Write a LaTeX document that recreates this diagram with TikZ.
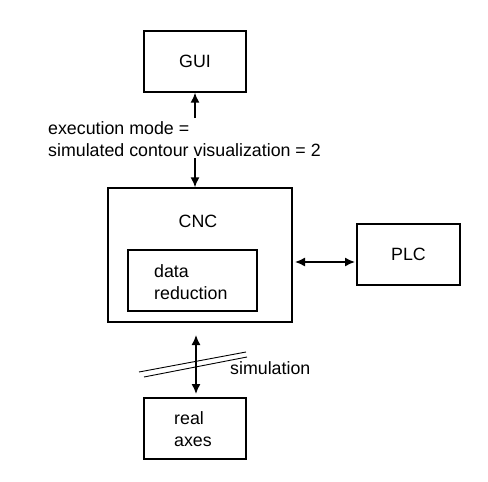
\documentclass[tikz,border=0pt]{standalone}
\usepackage{fontspec}
\setmainfont{Liberation Sans}
\usetikzlibrary{arrows.meta,calc}
\begin{document}
\begin{tikzpicture}[x=1pt,y=-1pt,
  box/.style={draw,line width=1.4pt,inner sep=0pt},
  lbl/.style={font=\fontsize{17.8}{22}\selectfont,inner sep=0pt},
  arr/.style={line width=1.5pt,-{Latex[length=10pt,width=9pt]}},
  darr/.style={line width=1.5pt,{Latex[length=10pt,width=9pt]}-{Latex[length=10pt,width=9pt]}},
  thin/.style={line width=0.9pt}]
\useasboundingbox (0,0) rectangle (488,482);
\node[box,minimum width=102pt,minimum height=61pt] (gui) at (195,61.5) {};
\node[lbl] at (gui.center) {GUI};
\node[box,minimum width=184pt,minimum height=134pt] (cnc) at (200,255) {};
\node[lbl] (cnct) at (198,221) {CNC};
\node[box,minimum width=129pt,minimum height=61pt] (dr) at (192.5,280.5) {};
\node[lbl,align=left,anchor=west] (drt) at (154,282) {data\\reduction};
\node[box,minimum width=103pt,minimum height=61pt] (plc) at (408.5,254.5) {};
\node[lbl] at (plc.center) {PLC};
\node[box,minimum width=102pt,minimum height=61pt] (ra) at (195,428.5) {};
\node[lbl,align=left,anchor=west] (rat) at (174,429) {real\\axes};
\node[lbl,align=left,anchor=west] (em) at (48,139) {execution mode =\\simulated contour visualization = 2};
\node[lbl,anchor=west] (sim) at (230,368) {simulation};
\coordinate (a1) at (195,118);
\coordinate (a2) at (195,158);
\coordinate (p1) at (295,262);
\coordinate (p2) at (355,262);
\coordinate (v1) at (196,335);
\coordinate (v2) at (196,394);
\coordinate (s1) at (139,372);
\coordinate (s2) at (246,352);
\coordinate (s3) at (144,377);
\coordinate (s4) at (247,357);
\draw[arr] (a1) -- (gui.south);
\draw[arr] (a2) -- (cnc.north -| a2);
\draw[darr] (p1) -- (p2);
\draw[darr] (v1) -- (v2);
\draw[thin] (s1) -- (s2);
\draw[thin] (s3) -- (s4);
\end{tikzpicture}
\end{document}
